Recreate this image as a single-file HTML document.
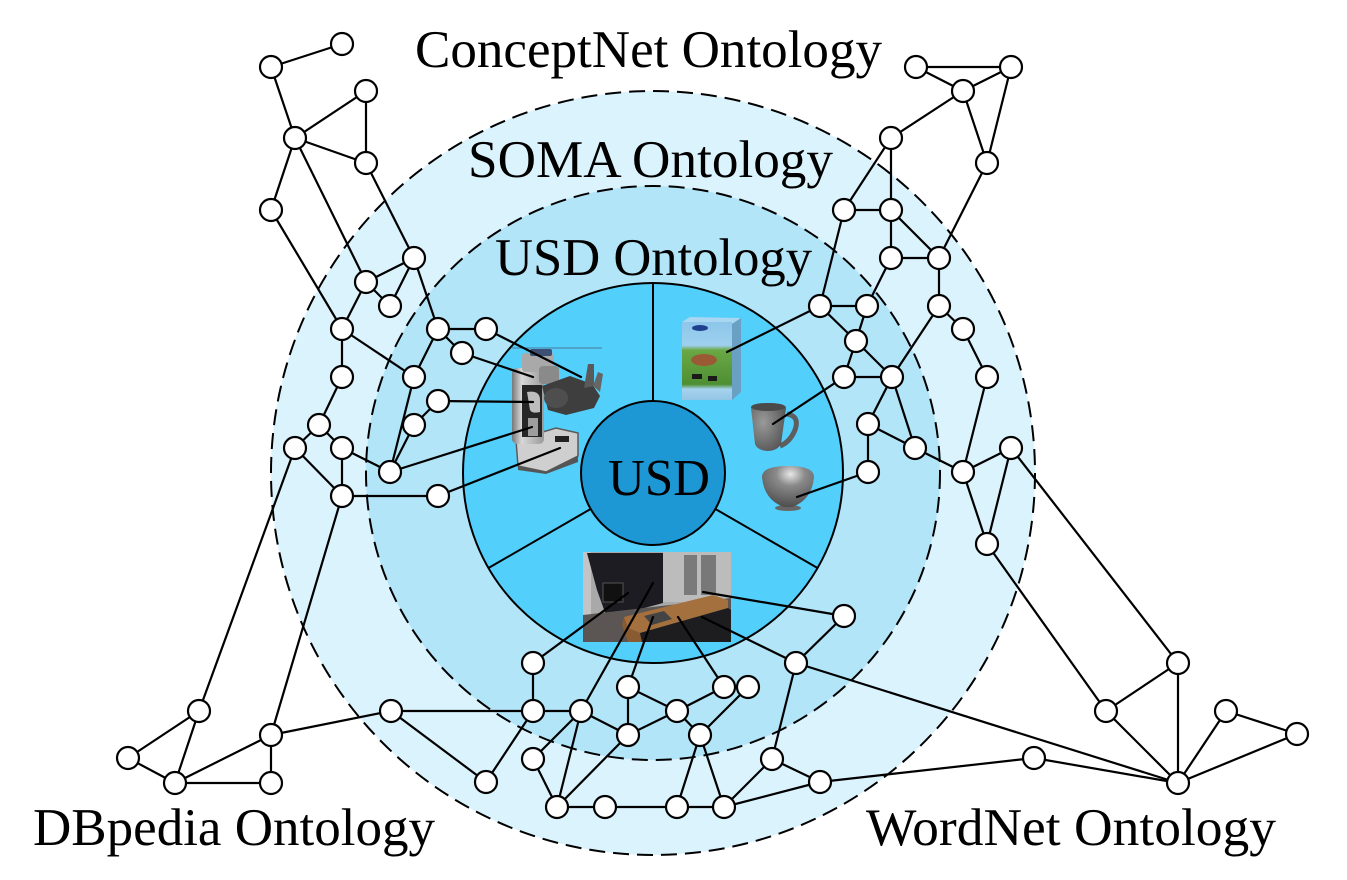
<!DOCTYPE html>
<html>
<head>
<meta charset="utf-8">
<style>
html,body{margin:0;padding:0;background:#fff;}
svg{display:block;}
text{font-family:"Liberation Serif","Times New Roman",serif;fill:#000;}
</style>
</head>
<body>
<svg width="1347" height="880" viewBox="0 0 1347 880" xmlns="http://www.w3.org/2000/svg">
<defs>
  <radialGradient id="bowlg" cx="0.55" cy="0.2" r="0.8">
    <stop offset="0" stop-color="#e8e8e8"/>
    <stop offset="0.35" stop-color="#8a8a8a"/>
    <stop offset="1" stop-color="#4e4e4e"/>
  </radialGradient>
  <radialGradient id="cupg" cx="0.35" cy="0.4" r="0.8">
    <stop offset="0" stop-color="#9a9a9a"/>
    <stop offset="1" stop-color="#4a4a4a"/>
  </radialGradient>
  <linearGradient id="boxg" x1="0" y1="0" x2="0" y2="1">
    <stop offset="0" stop-color="#8cc6ea"/>
    <stop offset="0.3" stop-color="#9fd0ee"/>
    <stop offset="0.36" stop-color="#6aa845"/>
    <stop offset="0.8" stop-color="#4f8f34"/>
    <stop offset="0.86" stop-color="#a6d3ee"/>
    <stop offset="1" stop-color="#93c5e6"/>
  </linearGradient>
  <linearGradient id="torsog" x1="0" y1="0" x2="1" y2="0">
    <stop offset="0" stop-color="#777"/>
    <stop offset="0.3" stop-color="#d8d8d8"/>
    <stop offset="1" stop-color="#9a9a9a"/>
  </linearGradient>
</defs>

<circle cx="653" cy="473" r="382" fill="#dbf3fd"/>
<circle cx="653" cy="473" r="287" fill="#b3e5f8"/>
<circle cx="653" cy="473" r="190" fill="#52cffb" stroke="#000" stroke-width="2"/>

<circle cx="653" cy="473" r="382" fill="none" stroke="#000" stroke-width="2" stroke-dasharray="16 8"/>
<circle cx="653" cy="473" r="287" fill="none" stroke="#000" stroke-width="2" stroke-dasharray="16 8"/>

<g stroke="#000" stroke-width="2">
  <line x1="653" y1="283" x2="653" y2="401"/>
  <line x1="590.6" y1="509" x2="488.5" y2="568"/>
  <line x1="715.4" y1="509" x2="817.5" y2="568"/>
</g>
<circle cx="653" cy="473" r="72" fill="#1e97d5" stroke="#000" stroke-width="2"/>
<text x="608" y="495" font-size="52" textLength="102" lengthAdjust="spacingAndGlyphs">USD</text>

<g>
  <line x1="512" y1="348" x2="602" y2="348" stroke="#4a7a9a" stroke-width="1"/>
  <path d="M516,440 L556,428 L578,433 L578,456 L546,472 L518,466 Z" fill="#cfcfcf" stroke="#5a5a5a" stroke-width="1.5"/>
  <path d="M518,466 L546,472 L578,456 L578,462 L546,474 L518,470 Z" fill="#555"/>
  <rect x="512" y="368" width="32" height="76" rx="5" fill="url(#torsog)"/>
  <rect x="522" y="385" width="20" height="52" fill="#262626"/>
  <path d="M527,392 Q540,390 540,400 L540,412 Q532,414 530,410 Z" fill="#bdbdbd"/>
  <path d="M528,418 L538,418 L538,436 L528,436 Z" fill="#9d9d9d"/>
  <rect x="522" y="353" width="32" height="19" rx="3" fill="#a9a9a9"/>
  <rect x="530" y="349" width="22" height="7" rx="2" fill="#3d4f72"/>
  <rect x="539" y="366" width="20" height="18" rx="4" fill="#8a8a8a"/>
  <path d="M542,386 L570,376 L592,384 L600,396 L594,408 L566,415 L548,410 Z" fill="#3e3e3e"/>
  <ellipse cx="556" cy="398" rx="12" ry="10" fill="#4e4e4e"/>
  <path d="M584,388 L588,364 L594,364 L594,386 Z" fill="#5a5a5a"/>
  <path d="M593,386 L598,372 L603,374 L600,392 Z" fill="#666"/>
  <rect x="555" y="436" width="14" height="6" fill="#222"/>
</g>

<g>
  <path d="M682,322 L690,317 L741,318 L732,324 Z" fill="#a9d6f0"/>
  <rect x="682" y="322" width="50" height="78" fill="url(#boxg)"/>
  <path d="M732,324 L741,318 L741,392 L732,400 Z" fill="#6aa0c4"/>
  <ellipse cx="700" cy="328" rx="8" ry="3" fill="#1f3f8f"/>
  <ellipse cx="704" cy="360" rx="13" ry="6" fill="#9a5a34"/>
  <rect x="692" y="374" width="10" height="5" fill="#1a1a1a"/>
  <rect x="708" y="376" width="9" height="5" fill="#1a1a1a"/>
</g>

<g>
  <path d="M787,414 Q800,416 795,430 Q790,442 780,446" fill="none" stroke="#5e5e5e" stroke-width="5"/>
  <path d="M751,408 Q751,403 768,403 Q786,403 786,408 L781,444 Q777,451 767,451 Q757,450 755,444 Z" fill="url(#cupg)"/>
  <ellipse cx="768" cy="407" rx="17" ry="4" fill="#4a4a4a"/>
</g>

<g>
  <ellipse cx="788" cy="508" rx="13" ry="3" fill="#666"/>
  <path d="M762,477 Q762,466 788,466 Q814,466 814,477 Q812,500 792,507 L784,507 Q764,500 762,477 Z" fill="url(#bowlg)"/>
</g>

<g>
  <rect x="583" y="552" width="148" height="90" fill="#a9a9a9"/>
  <rect x="583" y="552" width="8" height="70" fill="#c4c4c4"/>
  <rect x="663" y="552" width="68" height="50" fill="#bcbcbc"/>
  <rect x="684" y="555" width="13" height="40" fill="#7a7a7a"/>
  <rect x="701" y="555" width="15" height="40" fill="#787878"/>
  <polygon points="587,553 663,553 663,603 607,618 597,590" fill="#1c1c22"/>
  <rect x="603" y="583" width="20" height="19" fill="#111" stroke="#555" stroke-width="1"/>
  <polygon points="583,615 731,598 731,642 583,642" fill="#5b5654"/>
  <polygon points="624,617 713,595 728,600 728,608 640,633 628,628" fill="#a4703e"/>
  <polygon points="624,617 628,628 640,633 642,642 628,642 622,625" fill="#8a5a30"/>
  <polygon points="640,633 728,608 731,610 731,642 642,642" fill="#1d1d20"/>
  <polygon points="644,616 664,611 672,619 652,625" fill="#444"/>
</g>

<g stroke="#000" stroke-width="2.2" fill="none" stroke-linecap="round">
  <line x1="342" y1="44" x2="271" y2="67"/>
  <line x1="271" y1="67" x2="295" y2="138"/>
  <line x1="295" y1="138" x2="366" y2="91"/>
  <line x1="295" y1="138" x2="366" y2="163"/>
  <line x1="366" y1="91" x2="366" y2="163"/>
  <line x1="295" y1="138" x2="271" y2="210"/>
  <line x1="295" y1="138" x2="366" y2="282"/>
  <line x1="366" y1="163" x2="414" y2="258"/>
  <line x1="414" y1="258" x2="366" y2="282"/>
  <line x1="414" y1="258" x2="390" y2="306"/>
  <line x1="366" y1="282" x2="390" y2="306"/>
  <line x1="414" y1="258" x2="438" y2="329"/>
  <line x1="271" y1="210" x2="342" y2="329"/>
  <line x1="366" y1="282" x2="342" y2="329"/>
  <line x1="342" y1="329" x2="342" y2="377"/>
  <line x1="342" y1="329" x2="414" y2="377"/>
  <line x1="438" y1="329" x2="414" y2="377"/>
  <line x1="438" y1="329" x2="486" y2="329"/>
  <line x1="438" y1="329" x2="462" y2="353"/>
  <line x1="486" y1="329" x2="581" y2="377"/>
  <line x1="462" y1="353" x2="533" y2="377"/>
  <line x1="438" y1="401" x2="533" y2="402"/>
  <line x1="342" y1="377" x2="319" y2="425"/>
  <line x1="414" y1="377" x2="390" y2="472"/>
  <line x1="438" y1="401" x2="414" y2="425"/>
  <line x1="414" y1="425" x2="390" y2="472"/>
  <line x1="319" y1="425" x2="295" y2="448"/>
  <line x1="319" y1="425" x2="342" y2="448"/>
  <line x1="295" y1="448" x2="342" y2="496"/>
  <line x1="342" y1="448" x2="342" y2="496"/>
  <line x1="342" y1="448" x2="390" y2="472"/>
  <line x1="390" y1="472" x2="532" y2="427"/>
  <line x1="342" y1="496" x2="438" y2="496"/>
  <line x1="438" y1="496" x2="560" y2="448"/>
  <line x1="295" y1="448" x2="199" y2="711"/>
  <line x1="342" y1="496" x2="271" y2="735"/>
  <line x1="199" y1="711" x2="128" y2="758"/>
  <line x1="199" y1="711" x2="175" y2="783"/>
  <line x1="128" y1="758" x2="175" y2="783"/>
  <line x1="175" y1="783" x2="271" y2="735"/>
  <line x1="175" y1="783" x2="271" y2="783"/>
  <line x1="271" y1="735" x2="271" y2="783"/>
  <line x1="271" y1="735" x2="391" y2="711"/>
  <line x1="391" y1="711" x2="533" y2="711"/>
  <line x1="391" y1="711" x2="486" y2="782"/>
  <line x1="533" y1="663" x2="628" y2="593"/>
  <line x1="533" y1="663" x2="533" y2="711"/>
  <line x1="533" y1="711" x2="581" y2="711"/>
  <line x1="533" y1="711" x2="486" y2="782"/>
  <line x1="581" y1="711" x2="653" y2="583"/>
  <line x1="628" y1="687" x2="653" y2="617"/>
  <line x1="628" y1="687" x2="628" y2="735"/>
  <line x1="628" y1="687" x2="677" y2="711"/>
  <line x1="581" y1="711" x2="628" y2="735"/>
  <line x1="628" y1="735" x2="677" y2="711"/>
  <line x1="677" y1="711" x2="724" y2="687"/>
  <line x1="677" y1="711" x2="700" y2="735"/>
  <line x1="724" y1="687" x2="678" y2="617"/>
  <line x1="748" y1="687" x2="700" y2="735"/>
  <line x1="581" y1="711" x2="533" y2="759"/>
  <line x1="581" y1="711" x2="557" y2="807"/>
  <line x1="533" y1="759" x2="557" y2="807"/>
  <line x1="628" y1="735" x2="557" y2="807"/>
  <line x1="557" y1="807" x2="605" y2="807"/>
  <line x1="605" y1="807" x2="677" y2="807"/>
  <line x1="677" y1="807" x2="724" y2="807"/>
  <line x1="700" y1="735" x2="677" y2="807"/>
  <line x1="700" y1="735" x2="724" y2="807"/>
  <line x1="724" y1="807" x2="772" y2="759"/>
  <line x1="724" y1="807" x2="820" y2="782"/>
  <line x1="772" y1="759" x2="820" y2="782"/>
  <line x1="772" y1="759" x2="796" y2="663"/>
  <line x1="796" y1="663" x2="844" y2="616"/>
  <line x1="796" y1="663" x2="702" y2="617"/>
  <line x1="844" y1="616" x2="703" y2="592"/>
  <line x1="796" y1="663" x2="1178" y2="783"/>
  <line x1="820" y1="782" x2="1034" y2="758"/>
  <line x1="1034" y1="758" x2="1178" y2="783"/>
  <line x1="1178" y1="663" x2="1106" y2="711"/>
  <line x1="1178" y1="663" x2="1178" y2="783"/>
  <line x1="1106" y1="711" x2="1178" y2="783"/>
  <line x1="1226" y1="711" x2="1178" y2="783"/>
  <line x1="1226" y1="711" x2="1297" y2="734"/>
  <line x1="1297" y1="734" x2="1178" y2="783"/>
  <line x1="1011" y1="448" x2="1178" y2="663"/>
  <line x1="987" y1="544" x2="1106" y2="711"/>
  <line x1="916" y1="67" x2="1011" y2="67"/>
  <line x1="916" y1="67" x2="963" y2="91"/>
  <line x1="1011" y1="67" x2="963" y2="91"/>
  <line x1="963" y1="91" x2="891" y2="138"/>
  <line x1="963" y1="91" x2="987" y2="163"/>
  <line x1="1011" y1="67" x2="987" y2="163"/>
  <line x1="891" y1="138" x2="844" y2="210"/>
  <line x1="891" y1="138" x2="891" y2="210"/>
  <line x1="987" y1="163" x2="939" y2="258"/>
  <line x1="844" y1="210" x2="891" y2="210"/>
  <line x1="891" y1="210" x2="891" y2="258"/>
  <line x1="891" y1="210" x2="939" y2="258"/>
  <line x1="891" y1="258" x2="939" y2="258"/>
  <line x1="891" y1="258" x2="867" y2="306"/>
  <line x1="844" y1="210" x2="820" y2="306"/>
  <line x1="820" y1="306" x2="867" y2="306"/>
  <line x1="939" y1="258" x2="939" y2="306"/>
  <line x1="820" y1="306" x2="856" y2="341"/>
  <line x1="867" y1="306" x2="856" y2="341"/>
  <line x1="856" y1="341" x2="844" y2="377"/>
  <line x1="856" y1="341" x2="892" y2="377"/>
  <line x1="844" y1="377" x2="892" y2="377"/>
  <line x1="939" y1="306" x2="892" y2="377"/>
  <line x1="939" y1="306" x2="963" y2="329"/>
  <line x1="963" y1="329" x2="987" y2="377"/>
  <line x1="892" y1="377" x2="868" y2="424"/>
  <line x1="892" y1="377" x2="915" y2="448"/>
  <line x1="868" y1="424" x2="915" y2="448"/>
  <line x1="868" y1="424" x2="868" y2="472"/>
  <line x1="915" y1="448" x2="963" y2="472"/>
  <line x1="987" y1="377" x2="963" y2="472"/>
  <line x1="963" y1="472" x2="1011" y2="448"/>
  <line x1="963" y1="472" x2="987" y2="544"/>
  <line x1="1011" y1="448" x2="987" y2="544"/>
  <line x1="820" y1="306" x2="727" y2="352"/>
  <line x1="844" y1="377" x2="773" y2="424"/>
  <line x1="868" y1="472" x2="797" y2="497"/>
</g>

<g fill="#fff" stroke="#000" stroke-width="2.2">
  <circle cx="342" cy="44" r="11"/>
  <circle cx="271" cy="67" r="11"/>
  <circle cx="366" cy="91" r="11"/>
  <circle cx="295" cy="138" r="11"/>
  <circle cx="366" cy="163" r="11"/>
  <circle cx="271" cy="210" r="11"/>
  <circle cx="414" cy="258" r="11"/>
  <circle cx="366" cy="282" r="11"/>
  <circle cx="390" cy="306" r="11"/>
  <circle cx="342" cy="329" r="11"/>
  <circle cx="438" cy="329" r="11"/>
  <circle cx="486" cy="329" r="11"/>
  <circle cx="462" cy="353" r="11"/>
  <circle cx="342" cy="377" r="11"/>
  <circle cx="414" cy="377" r="11"/>
  <circle cx="438" cy="401" r="11"/>
  <circle cx="414" cy="425" r="11"/>
  <circle cx="319" cy="425" r="11"/>
  <circle cx="295" cy="448" r="11"/>
  <circle cx="342" cy="448" r="11"/>
  <circle cx="390" cy="472" r="11"/>
  <circle cx="342" cy="496" r="11"/>
  <circle cx="438" cy="496" r="11"/>
  <circle cx="199" cy="711" r="11"/>
  <circle cx="128" cy="758" r="11"/>
  <circle cx="175" cy="783" r="11"/>
  <circle cx="271" cy="735" r="11"/>
  <circle cx="271" cy="783" r="11"/>
  <circle cx="391" cy="711" r="11"/>
  <circle cx="533" cy="663" r="11"/>
  <circle cx="533" cy="711" r="11"/>
  <circle cx="581" cy="711" r="11"/>
  <circle cx="628" cy="687" r="11"/>
  <circle cx="628" cy="735" r="11"/>
  <circle cx="677" cy="711" r="11"/>
  <circle cx="724" cy="687" r="11"/>
  <circle cx="748" cy="687" r="11"/>
  <circle cx="700" cy="735" r="11"/>
  <circle cx="533" cy="759" r="11"/>
  <circle cx="486" cy="782" r="11"/>
  <circle cx="557" cy="807" r="11"/>
  <circle cx="605" cy="807" r="11"/>
  <circle cx="677" cy="807" r="11"/>
  <circle cx="724" cy="807" r="11"/>
  <circle cx="772" cy="759" r="11"/>
  <circle cx="820" cy="782" r="11"/>
  <circle cx="796" cy="663" r="11"/>
  <circle cx="844" cy="616" r="11"/>
  <circle cx="916" cy="67" r="11"/>
  <circle cx="1011" cy="67" r="11"/>
  <circle cx="963" cy="91" r="11"/>
  <circle cx="891" cy="138" r="11"/>
  <circle cx="987" cy="163" r="11"/>
  <circle cx="844" cy="210" r="11"/>
  <circle cx="891" cy="210" r="11"/>
  <circle cx="891" cy="258" r="11"/>
  <circle cx="939" cy="258" r="11"/>
  <circle cx="820" cy="306" r="11"/>
  <circle cx="867" cy="306" r="11"/>
  <circle cx="939" cy="306" r="11"/>
  <circle cx="856" cy="341" r="11"/>
  <circle cx="963" cy="329" r="11"/>
  <circle cx="844" cy="377" r="11"/>
  <circle cx="892" cy="377" r="11"/>
  <circle cx="987" cy="377" r="11"/>
  <circle cx="868" cy="424" r="11"/>
  <circle cx="915" cy="448" r="11"/>
  <circle cx="963" cy="472" r="11"/>
  <circle cx="1011" cy="448" r="11"/>
  <circle cx="868" cy="472" r="11"/>
  <circle cx="987" cy="544" r="11"/>
  <circle cx="1178" cy="663" r="11"/>
  <circle cx="1106" cy="711" r="11"/>
  <circle cx="1226" cy="711" r="11"/>
  <circle cx="1297" cy="734" r="11"/>
  <circle cx="1178" cy="783" r="11"/>
  <circle cx="1034" cy="758" r="11"/>
</g>

<text x="415" y="67" font-size="53" textLength="467" lengthAdjust="spacingAndGlyphs">ConceptNet Ontology</text>
<text x="468" y="177" font-size="53" textLength="365" lengthAdjust="spacingAndGlyphs">SOMA Ontology</text>
<text x="495" y="275" font-size="53" textLength="317" lengthAdjust="spacingAndGlyphs">USD Ontology</text>
<text x="33" y="845" font-size="53" textLength="402" lengthAdjust="spacingAndGlyphs">DBpedia Ontology</text>
<text x="866" y="845" font-size="53" textLength="410" lengthAdjust="spacingAndGlyphs">WordNet Ontology</text>
</svg>
</body>
</html>
